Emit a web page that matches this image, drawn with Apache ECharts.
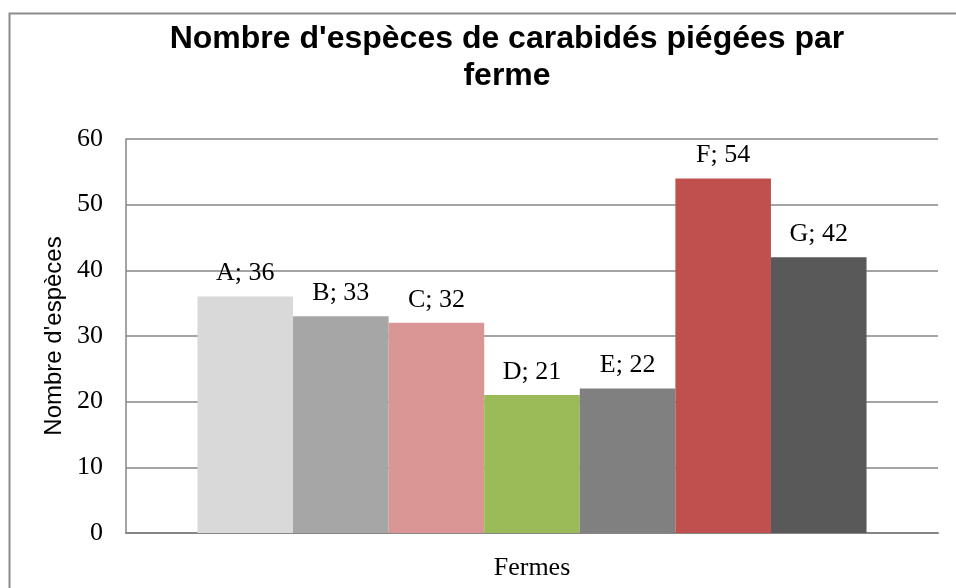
<!DOCTYPE html>
<html>
<head>
<meta charset="utf-8">
<script src="https://cdn.jsdelivr.net/npm/echarts@6/dist/echarts.min.js"></script>
<style>
  html, body { margin: 0; padding: 0; background: #fff; }
  #chart { width: 956px; height: 588px; }
</style>
</head>
<body>
<div id="chart"></div>
<script>
// données
const fermes = ["A", "B", "C", "D", "E", "F", "G"]
const especes = [36, 33, 32, 21, 22, 54, 42]
const couleurs = ["#D9D9D9", "#A6A6A6", "#D99694", "#9BBB59", "#808080", "#C0504D", "#595959"]
const categories = [""]
const yTicks = [0, 10, 20, 30, 40, 50, 60]

const serif = "'Liberation Serif', 'Times New Roman', serif"
const sans = "'Liberation Sans', Arial, sans-serif"

const chart = echarts.init(document.getElementById("chart"))

const series = fermes.map((nom, i) => ({
  name: nom,
  type: "bar",
  data: [especes[i]],
  barGap: "0%",
  barCategoryGap: "17.6%",
  itemStyle: { color: couleurs[i] },
  label: {
    show: true,
    position: "top",
    distance: 10,
    formatter: "{a}; {c}",
    fontFamily: serif,
    fontSize: 26,
    color: "#000",
  },
}))

chart.setOption({
  animation: false,
  title: {
    text: "Nombre d'espèces de carabidés piégées par\nferme",
    left: 502,
    textAlign: "center",
    top: 16,
    textStyle: {
      fontFamily: sans,
      fontWeight: "bold",
      fontSize: 32,
      lineHeight: 37,
      color: "#000",
    },
  },
  graphic: [
    {
      type: "rect",
      left: 7,
      top: 11,
      shape: { width: 1000, height: 1000 },
      style: { fill: "none", stroke: "#8c8c8c", lineWidth: 2 },
      z: -1,
    },
  ],
  grid: { left: 126, right: 18, top: 139, bottom: 55 },
  xAxis: {
    type: "category",
    data: categories,
    name: "Fermes",
    nameLocation: "middle",
    nameGap: 22,
    nameTextStyle: { fontFamily: serif, fontSize: 26, color: "#000" },
    axisLine: { lineStyle: { color: "#868686", width: 2 } },
    axisTick: { show: false },
    axisLabel: { show: false },
  },
  yAxis: {
    type: "value",
    min: yTicks[0],
    max: yTicks[yTicks.length - 1],
    interval: 10,
    name: "Nombre d'espèces",
    nameLocation: "middle",
    nameGap: 58,
    nameTextStyle: { fontFamily: sans, fontSize: 24, color: "#000" },
    axisLine: { show: true, lineStyle: { color: "#868686", width: 1.5 } },
    axisTick: { show: false },
    axisLabel: {
      margin: 23,
      fontFamily: serif,
      fontSize: 26,
      color: "#000",
    },
    splitLine: { lineStyle: { color: "#868686", width: 1.5 } },
  },
  series: series,
})
</script>
</body>
</html>
